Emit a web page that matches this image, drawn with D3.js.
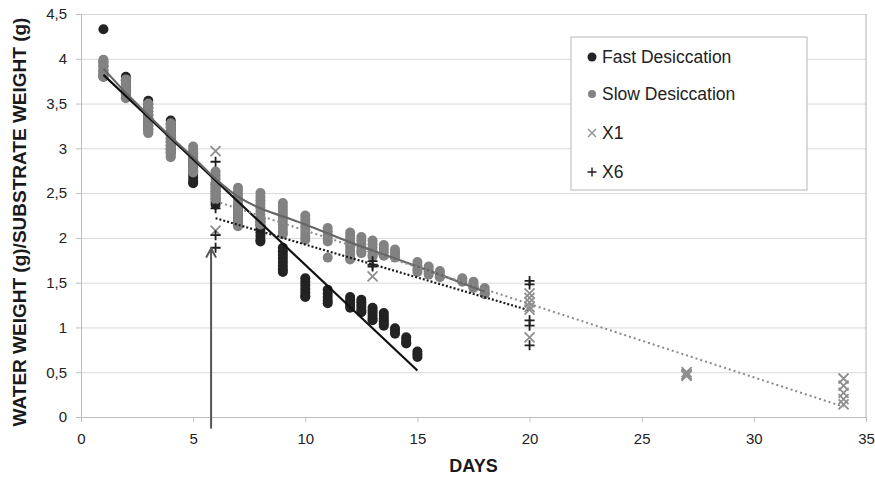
<!DOCTYPE html>
<html>
<head>
<meta charset="utf-8">
<script src="https://cdn.jsdelivr.net/npm/d3@7"></script>
<style>
  body { margin: 0; background: #fff; }
  svg { display: block; font-family: "Liberation Sans", Arial, sans-serif; }
</style>
</head>
<body>
<svg id="chart"></svg>
<script>
// --- data ---
const fastDays = [1, 2, 3, 4, 5, 6, 7, 8, 9, 10, 11, 12, 12.5, 13, 13.5, 14, 14.5, 15];
const fastValues = [
  [4.33, 3.97, 3.92, 3.87, 3.83, 3.80],
  [3.80, 3.76, 3.72, 3.68, 3.64, 3.60],
  [3.53, 3.49, 3.45, 3.41, 3.37, 3.33, 3.29, 3.25, 3.21],
  [3.31, 3.27, 3.23, 3.19, 3.15, 3.11, 3.07, 3.03, 2.99, 2.95],
  [2.95, 2.91, 2.87, 2.83, 2.79, 2.75, 2.71, 2.67, 2.63, 2.61],
  [2.60, 2.56, 2.52, 2.48, 2.44, 2.40, 2.37],
  [2.36, 2.32, 2.28, 2.24, 2.20, 2.16],
  [2.22, 2.18, 2.14, 2.10, 2.06, 2.02, 1.98, 1.96],
  [1.89, 1.85, 1.81, 1.77, 1.73, 1.69, 1.65, 1.62],
  [1.55, 1.51, 1.47, 1.43, 1.39, 1.35, 1.34],
  [1.42, 1.38, 1.34, 1.30, 1.27],
  [1.34, 1.31, 1.28, 1.25, 1.22],
  [1.31, 1.28, 1.25, 1.22, 1.19, 1.17],
  [1.22, 1.19, 1.16, 1.13, 1.10, 1.08],
  [1.16, 1.13, 1.10, 1.07, 1.04, 1.02],
  [0.99, 0.96, 0.93],
  [0.89, 0.86, 0.83, 0.82],
  [0.73, 0.70, 0.67]
];

const slowDays = [1, 2, 3, 4, 5, 6, 7, 8, 9, 10, 11, 12, 12.5, 13, 13.5, 14, 15, 15.5, 16, 17, 17.5, 18];
const slowValues = [
  [3.99, 3.95, 3.91, 3.87, 3.83, 3.80],
  [3.77, 3.73, 3.69, 3.65, 3.61, 3.57, 3.56],
  [3.50, 3.46, 3.42, 3.38, 3.34, 3.30, 3.26, 3.22, 3.18, 3.17],
  [3.28, 3.24, 3.20, 3.16, 3.12, 3.08, 3.04, 3.00, 2.96, 2.92, 2.90],
  [3.02, 2.98, 2.94, 2.90, 2.86, 2.82, 2.78, 2.74, 2.73],
  [2.74, 2.70, 2.66, 2.62, 2.58, 2.54, 2.50, 2.46, 2.43],
  [2.56, 2.52, 2.48, 2.44, 2.40, 2.36, 2.32, 2.28, 2.24, 2.20, 2.16, 2.13],
  [2.50, 2.46, 2.42, 2.38, 2.34, 2.30, 2.26, 2.22, 2.18, 2.15],
  [2.39, 2.35, 2.31, 2.27, 2.23, 2.19, 2.15, 2.11, 2.07, 2.04],
  [2.25, 2.21, 2.17, 2.13, 2.09, 2.05, 2.01, 1.98],
  [2.11, 2.07, 2.03, 1.99, 1.96, 1.78],
  [2.06, 2.02, 1.98, 1.94, 1.90, 1.86, 1.82, 1.78, 1.76],
  [2.01, 1.97, 1.93, 1.89, 1.85, 1.83],
  [1.97, 1.93, 1.89, 1.85, 1.81, 1.79],
  [1.92, 1.88, 1.84, 1.80],
  [1.87, 1.84, 1.81, 1.78],
  [1.73, 1.69, 1.65, 1.62],
  [1.68, 1.65, 1.62, 1.59],
  [1.63, 1.60, 1.57, 1.56],
  [1.55, 1.53, 1.51],
  [1.51, 1.48, 1.45, 1.44],
  [1.44, 1.41, 1.38, 1.37]
];

const x1Days = [6, 13, 20, 27, 34];
const x1Values = [
  [2.97, 2.08],
  [1.57],
  [1.38, 1.33, 1.28, 1.23, 1.20, 0.89],
  [0.50, 0.48, 0.47, 0.46],
  [0.43, 0.35, 0.27, 0.20, 0.14]
];

const x6Days = [6, 13, 20];
const x6Values = [
  [2.85, 2.33, 2.03, 1.89],
  [1.74, 1.70, 1.68],
  [1.52, 1.48, 1.08, 1.02, 0.80]
];

// trend lines
const fastTrendDays = [1, 15];
const fastTrendValues = [3.82, 0.52];
const slowTrendDays = [1, 2, 3, 4, 5, 6, 7, 8, 9, 10, 12, 14, 16, 18];
const slowTrendValues = [3.89, 3.62, 3.37, 3.13, 2.90, 2.66, 2.46, 2.33, 2.24, 2.15, 1.95, 1.77, 1.59, 1.40];
const x1TrendDays = [6, 34];
const x1TrendValues = [2.41, 0.115];
const x6TrendDays = [6, 20];
const x6TrendValues = [2.22, 1.19];

// arrow pointing at day ~5.8
const arrowDay = 5.8;
const arrowFrom = -0.13;
const arrowTo = 1.88;

const xTicks = [0, 5, 10, 15, 20, 25, 30, 35];
const yTicks = [0, 0.5, 1, 1.5, 2, 2.5, 3, 3.5, 4, 4.5];
const yTickLabels = ['0', '0,5', '1', '1,5', '2', '2,5', '3', '3,5', '4', '4,5'];

const legendLabels = ['Fast Desiccation', 'Slow Desiccation', 'X1', 'X6'];

// --- layout ---
const width = 875;
const height = 478;
const margin = { top: 14, right: 9, bottom: 61, left: 81 };
const innerWidth = width - margin.left - margin.right;
const innerHeight = height - margin.top - margin.bottom;

const fastColor = '#232323';
const slowColor = '#828282';
const x1Color = '#8f8f8f';
const x6Color = '#1e1e1e';

const svg = d3.select('#chart')
  .attr('width', width)
  .attr('height', height);

const xScale = d3.scaleLinear().domain([0, 35]).range([0, innerWidth]);
const yScale = d3.scaleLinear().domain([0, 4.5]).range([innerHeight, 0]);

const g = svg.append('g')
  .attr('transform', `translate(${margin.left}, ${margin.top})`);

// gridlines
g.append('g')
  .call(d3.axisLeft(yScale).tickValues(yTicks).tickSize(-innerWidth).tickFormat(''))
  .call(s => s.select('.domain').remove())
  .call(s => s.selectAll('line').attr('stroke', '#d9d9d9').attr('stroke-width', 1));

// plot border (right side)
g.append('line')
  .attr('x1', innerWidth).attr('x2', innerWidth)
  .attr('y1', 0).attr('y2', innerHeight)
  .attr('stroke', '#b0b0b0');

// axes
const yAxis = g.append('g')
  .call(d3.axisLeft(yScale).tickValues(yTicks).tickFormat((d, i) => yTickLabels[i]).tickSize(5).tickPadding(9));
yAxis.select('.domain').attr('stroke', '#bdbdbd');
yAxis.selectAll('line').attr('stroke', '#bdbdbd');
yAxis.selectAll('text').attr('fill', '#222').style('font-size', '15px');

const xAxis = g.append('g')
  .attr('transform', `translate(0, ${innerHeight})`)
  .call(d3.axisBottom(xScale).tickValues(xTicks).tickSize(5).tickPadding(11));
xAxis.select('.domain').attr('stroke', '#bdbdbd');
xAxis.selectAll('line').attr('stroke', '#bdbdbd');
xAxis.selectAll('text').attr('fill', '#222').style('font-size', '15px');

// axis titles
svg.append('text')
  .attr('x', margin.left + innerWidth / 2)
  .attr('y', 472)
  .attr('text-anchor', 'middle')
  .attr('font-weight', 'bold')
  .attr('font-size', 18)
  .attr('fill', '#1a1a1a')
  .text('DAYS');

svg.append('text')
  .attr('transform', 'translate(26, 222) rotate(-90)')
  .attr('text-anchor', 'middle')
  .attr('font-weight', 'bold')
  .attr('font-size', 19)
  .attr('fill', '#1a1a1a')
  .text('WATER WEIGHT (g)/SUBSTRATE WEIGHT (g)');

// flatten stacks into points
function toPoints(days, values) {
  const pts = [];
  days.forEach((d, i) => values[i].forEach(v => pts.push({ day: d, value: v })));
  return pts;
}

const line = d3.line()
  .x(d => xScale(d[0]))
  .y(d => yScale(d[1]));

// fast desiccation dots
g.append('g').selectAll('circle')
  .data(toPoints(fastDays, fastValues))
  .enter()
  .append('circle')
  .attr('cx', d => xScale(d.day))
  .attr('cy', d => yScale(d.value))
  .attr('r', 5)
  .attr('fill', fastColor);

// slow desiccation dots
g.append('g').selectAll('circle')
  .data(toPoints(slowDays, slowValues))
  .enter()
  .append('circle')
  .attr('cx', d => xScale(d.day))
  .attr('cy', d => yScale(d.value))
  .attr('r', 5)
  .attr('fill', slowColor);

// trend lines
g.append('path')
  .datum(fastTrendDays.map((d, i) => [d, fastTrendValues[i]]))
  .attr('d', line)
  .attr('fill', 'none')
  .attr('stroke', '#111')
  .attr('stroke-width', 2.2);

g.append('path')
  .datum(slowTrendDays.map((d, i) => [d, slowTrendValues[i]]))
  .attr('d', line.curve(d3.curveMonotoneX))
  .attr('fill', 'none')
  .attr('stroke', '#666')
  .attr('stroke-width', 2.2);
line.curve(d3.curveLinear);

g.append('path')
  .datum(x1TrendDays.map((d, i) => [d, x1TrendValues[i]]))
  .attr('d', line)
  .attr('fill', 'none')
  .attr('stroke', '#8a8a8a')
  .attr('stroke-width', 2)
  .attr('stroke-dasharray', '2,3');

g.append('path')
  .datum(x6TrendDays.map((d, i) => [d, x6TrendValues[i]]))
  .attr('d', line)
  .attr('fill', 'none')
  .attr('stroke', '#1a1a1a')
  .attr('stroke-width', 2.2)
  .attr('stroke-dasharray', '2,2');

// X1 markers (x)
const s = 5;
g.append('g').selectAll('path')
  .data(toPoints(x1Days, x1Values))
  .enter()
  .append('path')
  .attr('transform', d => `translate(${xScale(d.day)}, ${yScale(d.value)})`)
  .attr('d', `M${-s},${-s}L${s},${s}M${-s},${s}L${s},${-s}`)
  .attr('stroke', x1Color)
  .attr('stroke-width', 1.8)
  .attr('fill', 'none');

// X6 markers (+)
g.append('g').selectAll('path')
  .data(toPoints(x6Days, x6Values))
  .enter()
  .append('path')
  .attr('transform', d => `translate(${xScale(d.day)}, ${yScale(d.value)})`)
  .attr('d', `M${-s},0L${s},0M0,${-s}L0,${s}`)
  .attr('stroke', x6Color)
  .attr('stroke-width', 1.8)
  .attr('fill', 'none');

// arrow
const ax = xScale(arrowDay);
const ay = yScale(arrowTo);
g.append('line')
  .attr('x1', ax).attr('x2', ax)
  .attr('y1', yScale(arrowFrom)).attr('y2', ay)
  .attr('stroke', '#555')
  .attr('stroke-width', 2);
g.append('path')
  .attr('d', `M${ax - 5},${ay + 9}L${ax},${ay}L${ax + 5},${ay + 9}`)
  .attr('stroke', '#555')
  .attr('stroke-width', 2)
  .attr('fill', 'none');

// legend
const legend = svg.append('g').attr('transform', 'translate(571, 37)');
legend.append('rect')
  .attr('width', 236)
  .attr('height', 153)
  .attr('fill', '#fff')
  .attr('stroke', '#b5b5b5');

const rowY = [20, 57, 96, 135];
legendLabels.forEach((label, i) => {
  const row = legend.append('g').attr('transform', `translate(21, ${rowY[i]})`);
  if (i === 0) {
    row.append('circle').attr('r', 4.5).attr('fill', fastColor);
  } else if (i === 1) {
    row.append('circle').attr('r', 4).attr('fill', slowColor);
  } else if (i === 2) {
    row.append('path').attr('d', 'M-4,-4L4,4M-4,4L4,-4')
      .attr('stroke', x1Color).attr('stroke-width', 1.4);
  } else {
    row.append('path').attr('d', 'M-4.5,0L4.5,0M0,-4.5L0,4.5')
      .attr('stroke', x6Color).attr('stroke-width', 1.4);
  }
  row.append('text')
    .attr('x', 10)
    .attr('y', 6)
    .attr('font-size', 17.5)
    .attr('fill', '#222')
    .text(label);
});
</script>
</body>
</html>
